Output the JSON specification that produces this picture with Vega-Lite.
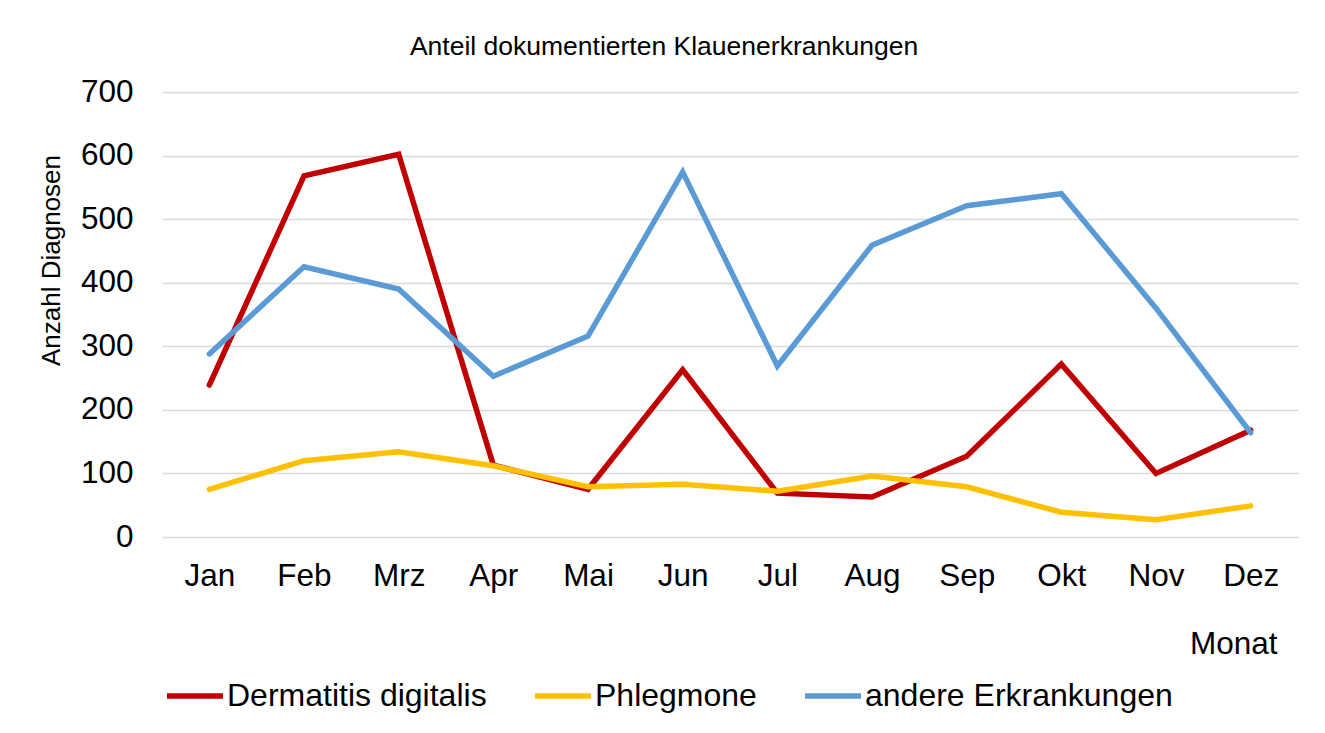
{
  "$schema": "https://vega.github.io/schema/vega-lite/v6.json",
  "width": 1136,
  "height": 445,
  "autosize": "none",
  "padding": {"left": 162, "top": 92, "right": 27, "bottom": 196},
  "background": "white",
  "config": {
    "font": "Liberation Sans",
    "view": {"stroke": null}
  },
  "title": {
    "text": "Anteil dokumentierten Klauenerkrankungen",
    "fontSize": 26.5,
    "fontWeight": "normal",
    "color": "#000000",
    "anchor": "middle",
    "frame": "group",
    "baseline": "alphabetic",
    "offset": 39,
    "dx": -66,
    "dy": 44
  },
  "data": {
    "values": [
      {"Monat": "Jan", "Serie": "Dermatitis digitalis", "Anzahl": 239},
      {"Monat": "Feb", "Serie": "Dermatitis digitalis", "Anzahl": 568},
      {"Monat": "Mrz", "Serie": "Dermatitis digitalis", "Anzahl": 602},
      {"Monat": "Apr", "Serie": "Dermatitis digitalis", "Anzahl": 113},
      {"Monat": "Mai", "Serie": "Dermatitis digitalis", "Anzahl": 75},
      {"Monat": "Jun", "Serie": "Dermatitis digitalis", "Anzahl": 263},
      {"Monat": "Jul", "Serie": "Dermatitis digitalis", "Anzahl": 69},
      {"Monat": "Aug", "Serie": "Dermatitis digitalis", "Anzahl": 63},
      {"Monat": "Sep", "Serie": "Dermatitis digitalis", "Anzahl": 127},
      {"Monat": "Okt", "Serie": "Dermatitis digitalis", "Anzahl": 272},
      {"Monat": "Nov", "Serie": "Dermatitis digitalis", "Anzahl": 100},
      {"Monat": "Dez", "Serie": "Dermatitis digitalis", "Anzahl": 168},
      {"Monat": "Jan", "Serie": "Phlegmone", "Anzahl": 75},
      {"Monat": "Feb", "Serie": "Phlegmone", "Anzahl": 120},
      {"Monat": "Mrz", "Serie": "Phlegmone", "Anzahl": 134},
      {"Monat": "Apr", "Serie": "Phlegmone", "Anzahl": 112},
      {"Monat": "Mai", "Serie": "Phlegmone", "Anzahl": 79},
      {"Monat": "Jun", "Serie": "Phlegmone", "Anzahl": 83},
      {"Monat": "Jul", "Serie": "Phlegmone", "Anzahl": 72},
      {"Monat": "Aug", "Serie": "Phlegmone", "Anzahl": 96},
      {"Monat": "Sep", "Serie": "Phlegmone", "Anzahl": 79},
      {"Monat": "Okt", "Serie": "Phlegmone", "Anzahl": 39},
      {"Monat": "Nov", "Serie": "Phlegmone", "Anzahl": 27},
      {"Monat": "Dez", "Serie": "Phlegmone", "Anzahl": 49},
      {"Monat": "Jan", "Serie": "andere Erkrankungen", "Anzahl": 288},
      {"Monat": "Feb", "Serie": "andere Erkrankungen", "Anzahl": 425},
      {"Monat": "Mrz", "Serie": "andere Erkrankungen", "Anzahl": 390},
      {"Monat": "Apr", "Serie": "andere Erkrankungen", "Anzahl": 253},
      {"Monat": "Mai", "Serie": "andere Erkrankungen", "Anzahl": 316},
      {"Monat": "Jun", "Serie": "andere Erkrankungen", "Anzahl": 574},
      {"Monat": "Jul", "Serie": "andere Erkrankungen", "Anzahl": 269},
      {"Monat": "Aug", "Serie": "andere Erkrankungen", "Anzahl": 459},
      {"Monat": "Sep", "Serie": "andere Erkrankungen", "Anzahl": 521},
      {"Monat": "Okt", "Serie": "andere Erkrankungen", "Anzahl": 540},
      {"Monat": "Nov", "Serie": "andere Erkrankungen", "Anzahl": 360},
      {"Monat": "Dez", "Serie": "andere Erkrankungen", "Anzahl": 164}
    ]
  },
  "mark": {"type": "line", "strokeWidth": 5.5, "strokeCap": "round"},
  "encoding": {
    "x": {
      "field": "Monat",
      "type": "ordinal",
      "sort": ["Jan", "Feb", "Mrz", "Apr", "Mai", "Jun", "Jul", "Aug", "Sep", "Okt", "Nov", "Dez"],
      "scale": {"type": "point", "padding": 0.5},
      "axis": {
        "title": "Monat",
        "titleFontSize": 31.5,
        "titleFontWeight": "normal",
        "titleColor": "#000000",
        "titleX": 1115,
        "titleY": 116,
        "titleAlign": "right",
        "titleBaseline": "alphabetic",
        "labelFontSize": 31.5,
        "labelColor": "#000000",
        "labelAngle": 0,
        "labelPadding": 23,
        "ticks": false,
        "domain": false,
        "grid": false
      }
    },
    "y": {
      "field": "Anzahl",
      "type": "quantitative",
      "scale": {"domain": [0, 700], "nice": false},
      "axis": {
        "title": "Anzahl Diagnosen",
        "titleFontSize": 26,
        "titleFontWeight": "normal",
        "titleColor": "#000000",
        "titleX": -111,
        "titleY": 168,
        "titleAngle": -90,
        "titleAlign": "center",
        "titleBaseline": "middle",
        "values": [0, 100, 200, 300, 400, 500, 600, 700],
        "labelFontSize": 31.5,
        "labelColor": "#000000",
        "labelPadding": 29,
        "ticks": false,
        "domain": false,
        "grid": true,
        "gridColor": "#D9D9D9",
        "gridWidth": 1.5
      }
    },
    "color": {
      "field": "Serie",
      "type": "nominal",
      "scale": {
        "domain": ["Dermatitis digitalis", "Phlegmone", "andere Erkrankungen"],
        "range": ["#C00000", "#FFC000", "#5B9BD5"]
      },
      "legend": {
        "title": null,
        "orient": "none",
        "legendX": 2,
        "legendY": 573,
        "direction": "horizontal",
        "columns": 3,
        "columnPadding": 37,
        "symbolType": "stroke",
        "symbolSize": 3136,
        "symbolStrokeWidth": 5.5,
        "labelFontSize": 32,
        "labelColor": "#000000",
        "labelOffset": 1,
        "labelLimit": 500
      }
    }
  }
}
